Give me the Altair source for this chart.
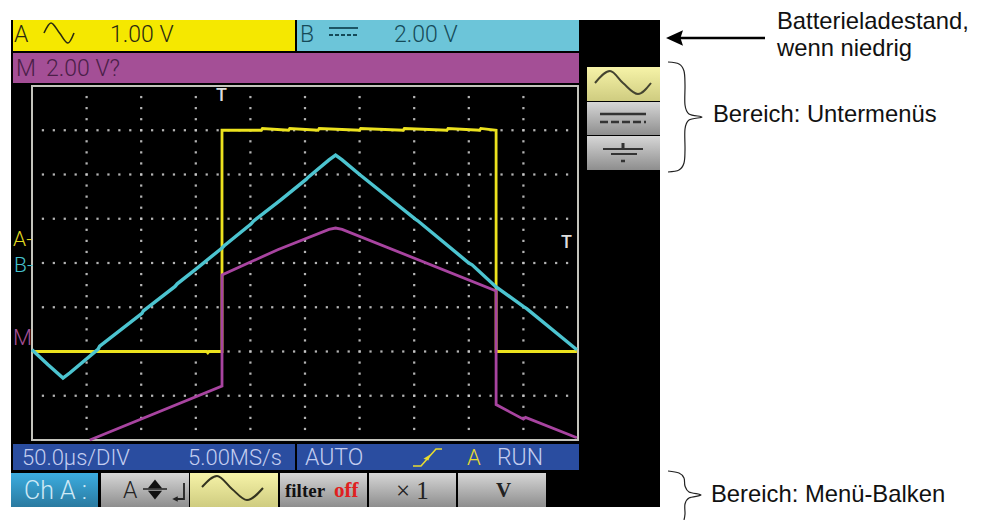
import altair as alt
import pandas as pd

W, H = 966, 512

# --- oscilloscope traces: time in microseconds (50 us/DIV), level in divisions
trace_a_t = [0, 160, 161, 162, 174, 174, 190, 210, 211, 235, 236, 262, 263, 300, 301, 340, 341, 380, 381, 410, 411, 425, 425, 499]
trace_a_v = [-2.0, -2.0, -2.03, -2.0, -2.0, 3.0, 3.0, 3.0, 3.04, 3.0, 3.04, 3.0, 3.04, 3.0, 3.04, 3.0, 3.04, 3.0, 3.04, 3.0, 3.04, 3.0, -2.0, -2.0]
trace_b_t = [0, 14.7, 28.4, 34.8, 60.4, 62, 100.7, 102, 131, 133, 151, 174, 176, 200.5, 203, 227, 251, 253, 272, 278, 284, 300, 302, 351, 353, 400, 403, 425, 450.5, 453, 499]
trace_b_v = [-1.96, -2.3, -2.6, -2.48, -1.95, -1.88, -1.14, -1.08, -0.53, -0.47, -0.12, 0.34, 0.39, 0.88, 0.95, 1.41, 1.89, 1.94, 2.33, 2.44, 2.33, 2.0, 1.96, 0.99, 0.96, 0, -0.04, -0.54, -0.99, -1.03, -1.96]
trace_m_t = [53, 174, 174, 225, 272, 278, 284, 425, 425, 450, 452, 499]
trace_m_v = [-4.0, -2.78, -0.27, 0.3, 0.76, 0.79, 0.76, -0.63, -3.2, -3.53, -3.49, -3.95]

# --- screen layout panels: left, top, right, bottom, colour
panels = [
    (11, 20, 660, 507, "#000000"),
    (13, 20, 295, 51, "#f5e800"),
    (297, 20, 579, 51, "#6cc5d9"),
    (13, 53, 579, 83, "#a44f96"),
    (13, 444, 295, 470, "#2a4da0"),
    (297, 444, 579, 470, "#2a4da0"),
]
gray_buttons = [(101, 473, 189, 507), (280, 473, 367, 507), (369, 473, 456, 507), (458, 473, 546, 507),
                (587, 102, 660, 135), (587, 136, 660, 170)]
yellow_buttons = [(190, 473, 278, 507), (587, 67, 660, 101)]
blue_buttons = [(11, 473, 98, 507)]

sans_labels = [
    ("Batterieladestand,", 777, 29, "#111111", 23.8),
    ("wenn niedrig", 777, 56, "#111111", 23.8),
    ("Bereich: Untermenüs", 713, 122, "#111111", 23.8),
    ("Bereich: Menü-Balken", 711, 502, "#111111", 23.8),
]
lcd_labels = [
    ("A", 14, 42, "#2a2a10", 23), ("1.00 V", 110, 42, "#2a2a10", 23),
    ("B", 300, 42, "#154a58", 23), ("2.00 V", 394, 42, "#154a58", 23),
    ("M", 16, 76, "#4a2048", 23), ("2.00 V?", 46, 76, "#4a2048", 23),
    ("50.0µs/DIV", 22, 465, "#c4cdf0", 22), ("5.00MS/s", 188, 465, "#c4cdf0", 22),
    ("AUTO", 305, 465, "#c4cdf0", 23), ("RUN", 497, 465, "#c4cdf0", 23),
    ("A", 467, 465, "#e8dc30", 22),
    ("Ch A :", 24, 499, "#cfe9f6", 25), ("A", 123, 498, "#222222", 23),
    ("A-", 13, 246, "#e0d820", 21), ("B-", 14, 272, "#45c0cc", 21), ("M", 13, 345, "#a44f96", 22),
]
bold_lcd_labels = [("T", 216, 101, "#dddddd", 18), ("T", 561, 248, "#dddddd", 18)]
serif_bold_labels = [
    ("filter", 285, 497, "#111111", 19), ("off", 334, 497, "#e02020", 21),
    ("V", 496, 497, "#222222", 21),
]
serif_labels = [("× 1", 396, 499, "#222222", 25)]

# --- icon strokes and annotation strokes: points in page pixels
curves = {
    "sineA": ([44, 51, 59.5, 68, 74], [33, 23, 33, 43, 33], "#2a2a10", 1.6),
    "sineMenu": ([202, 217, 232, 247, 263], [487, 476, 489, 500, 488], "#333320", 2.0),
    "sineSide": ([595, 610, 623, 638, 651], [83, 71, 83, 94, 83], "#444430", 2.0),
    "brace1": ([668, 679, 684, 685, 685, 689, 702, 689, 685, 685, 684, 679, 668],
               [62, 64, 71, 85, 105, 114, 117, 120, 129, 150, 163, 170, 172], "#222222", 1.2),
    "brace2": ([668, 679, 684, 685, 689, 701, 689, 685, 685, 684],
               [471, 473, 478, 486, 492, 495, 498, 504, 514, 520], "#222222", 1.2),
}
straight = [
    ([765, 678], [38, 38], "#000000", 2.6, []),
    ([329, 358], [28, 28], "#154a58", 1.8, []), ([329, 358], [35, 35], "#154a58", 1.8, [4, 2]),
    ([600, 646], [114, 114], "#333333", 2.4, []), ([600, 646], [122, 122], "#333333", 2.4, [8, 3]),
    ([603, 643], [149, 149], "#333333", 2.0, []), ([623, 623], [143, 149], "#333333", 3.0, []),
    ([611, 637], [154, 154], "#333333", 2.0, []), ([621, 625], [161, 161], "#333333", 2.5, []),
    ([413, 421, 436, 442], [466, 466, 449, 449], "#e8dc30", 1.6, []),
    ([143, 167], [489, 489], "#222222", 1.5, []),
    ([184, 184, 175], [483, 499, 499], "#222222", 1.8, []),
]
markers = [
    (674.5, 38, "M-1,0L1,-0.9L0.7,0L1,0.9Z", 289, "#000000"),
    (155, 483, "M-1,0.75L0,-0.5L1,0.75Z", 200, "#111111"),
    (155, 496, "M-1,-0.75L0,0.5L1,-0.75Z", 200, "#111111"),
    (175, 499, "M-1,0L1,-1L1,1Z", 30, "#222222"),
    (427, 457, "M-1,0.5L1,-0.8L0.4,1Z", 50, "#e8dc30"),
]

sx = alt.Scale(domain=[8, 8 + W], range=[0, W], nice=False, zero=False)
sy = alt.Scale(domain=[8, 8 + H], range=[0, H], nice=False, zero=False)
tx = alt.Scale(domain=[0, 500], range=[24, 570], nice=False, zero=False)
vy = alt.Scale(domain=[-4, 4], range=[432, 78], nice=False, zero=False)


def X(f="x"):
    return alt.X(f"{f}:Q", scale=sx, axis=None)


def Y(f="y"):
    return alt.Y(f"{f}:Q", scale=sy, axis=None)


def rects(rows, colour=None):
    d = pd.DataFrame(rows, columns=["x", "y", "x2", "y2"] + (["c"] if colour is None else []))
    enc = dict(x=X(), y=Y(), x2="x2:Q", y2="y2:Q")
    if colour is None:
        enc["color"] = alt.Color("c:N", scale=None)
        return alt.Chart(d).mark_rect().encode(**enc)
    return alt.Chart(d).mark_rect(fill=colour).encode(**enc)


def grad(top, bottom):
    return alt.Gradient(gradient="linear", x1=0, x2=0, y1=0, y2=1,
                        stops=[alt.GradientStop(color=top, offset=0), alt.GradientStop(color=bottom, offset=1)])


def texts(rows, **mk):
    d = pd.DataFrame(rows, columns=["t", "x", "y", "c", "s"])
    return alt.Chart(d).mark_text(align="left", baseline="alphabetic", **mk).encode(
        x=X(), y=Y(), text="t:N", color=alt.Color("c:N", scale=None), size=alt.Size("s:Q", scale=None))


def path(xs, ys, colour, width, dash=(), interp="linear"):
    d = pd.DataFrame({"x": xs, "y": ys, "i": range(len(xs))})
    return alt.Chart(d).mark_line(color=colour, strokeWidth=width, strokeDash=list(dash), interpolate=interp,
                                  strokeCap="butt").encode(x=X(), y=Y(), order="i:Q")


def trace(ts, vs, colour, width):
    d = pd.DataFrame({"t": ts, "v": vs, "i": range(len(ts))})
    return alt.Chart(d).mark_line(color=colour, strokeWidth=width, interpolate="linear").encode(
        x=alt.X("t:Q", scale=tx, axis=None), y=alt.Y("v:Q", scale=vy, axis=None), order="i:Q")


# graticule dots: each division line is dotted in steps of its minor ticks
dots = pd.DataFrame(
    [{"t": d * 50, "v": k / 4 - 4} for d in range(1, 10) for k in range(1, 32)]
    + [{"t": k * 10, "v": v} for v in [-3, -2, -1, 0, 1, 2, 3] for k in range(1, 50)]
)
grid = alt.Chart(dots).mark_square(size=5, color="#c8c8c8", opacity=0.9).encode(
    x=alt.X("t:Q", scale=tx, axis=None), y=alt.Y("v:Q", scale=vy, axis=None))

frame = alt.Chart(pd.DataFrame({"x": [32], "y": [86], "x2": [578], "y2": [440]})).mark_rect(
    fill="transparent", stroke="#c4c4bc", strokeWidth=2).encode(x=X(), y=Y(), x2="x2:Q", y2="y2:Q")

layers = [
    rects(panels),
    rects(gray_buttons, grad("#d6d6d6", "#8e8e8e")),
    rects(yellow_buttons, grad("#f6f3a8", "#cfcc80")),
    rects(blue_buttons, grad("#3cadE0", "#2a7aa0")),
    grid,
    frame,
    trace(trace_a_t, trace_a_v, "#ece21e", 2.8),
    trace(trace_b_t, trace_b_v, "#4cc4d0", 3.4),
    trace(trace_m_t, trace_m_v, "#a844a0", 2.8),
]
for name, (xs, ys, c, w) in curves.items():
    layers.append(path(xs, ys, c, w, interp="cardinal" if name.startswith("brace") else "monotone"))
for xs, ys, c, w, dash in straight:
    layers.append(path(xs, ys, c, w, dash))
for mx, my, shape, size, c in markers:
    layers.append(alt.Chart(pd.DataFrame({"x": [mx], "y": [my]})).mark_point(
        shape=shape, size=size, filled=True, color=c, opacity=1).encode(x=X(), y=Y()))
layers += [
    texts(sans_labels, font="Liberation Sans"),
    texts(lcd_labels, font="Roboto", fontWeight=300),
    texts(bold_lcd_labels, font="Roboto", fontWeight=500),
    texts(serif_bold_labels, font="Liberation Serif", fontWeight="bold"),
    texts(serif_labels, font="Liberation Serif"),
]

chart = alt.layer(*layers).resolve_scale(x="independent", y="independent").properties(
    width=W, height=H, padding=0, background="#ffffff",
    autosize=alt.AutoSizeParams(type="none", contains="padding"),
).configure_view(stroke=None)

chart.save("out.html", embed_options={"renderer": "svg", "actions": False})
